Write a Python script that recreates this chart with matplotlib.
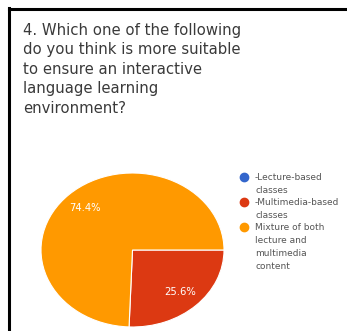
import matplotlib.pyplot as plt
from matplotlib.lines import Line2D

# datos del grafico
title = ("4. Which one of the following\ndo you think is more suitable\n"
         "to ensure an interactive\nlanguage learning\nenvironment?")
labels = ["-Lecture-based\nclasses", "-Multimedia-based\nclasses",
          "Mixture of both\nlecture and\nmultimedia\ncontent"]
values = [0.0, 25.6, 74.4]
colors = ["#3366CC", "#DC3912", "#FF9900"]

W, H = 347, 331
plt.rcParams['font.family'] = ['DejaVu Sans']

fig = plt.figure(figsize=(W / 100, H / 100), dpi=100)
fig.patch.set_facecolor('white')

# marco negro (solo izquierda y arriba)
fig.add_artist(Line2D([8.5 / W, 8.5 / W], [0, 1 - 8 / H], color='black', lw=2.2))
fig.add_artist(Line2D([8.5 / W, 1], [1 - 8.5 / H, 1 - 8.5 / H], color='black', lw=2.2))

fig.text(23 / W, 1 - 22.5 / H, title, ha='left', va='top', fontsize=10.7,
         color='#3a3a3a', linespacing=1.38)

ax = fig.add_axes([41 / W, 4 / H, 183 / W, 154 / H])
shown = [v for v in values if v > 0]
shown_colors = [c for v, c in zip(values, colors) if v > 0]
wedges, texts, autotexts = ax.pie(shown, colors=shown_colors, startangle=0,
                                  counterclock=False, autopct='%.1f%%',
                                  pctdistance=0.75,
                                  wedgeprops=dict(edgecolor='white', linewidth=0.8))
for t in autotexts:
    t.set_color('white')
    t.set_fontsize(7.2)
ax.set_aspect('auto')
ax.set_xlim(-1.0, 1.0)
ax.set_ylim(-1.0, 1.0)

# leyenda manual: marcador alineado con la primera linea
line_h = 12.6
y = 177
for lab, c in zip(labels, colors):
    fig.add_artist(Line2D([244 / W], [1 - y / H], marker='o', markersize=6,
                          markerfacecolor=c, markeredgecolor=c, linestyle=''))
    fig.text(255 / W, 1 - (y - 4) / H, lab, ha='left', va='top',
             fontsize=6.5, color='#555555', linespacing=1.55)
    y += line_h * (lab.count('\n') + 1)

fig.savefig('out.png', dpi=100)
